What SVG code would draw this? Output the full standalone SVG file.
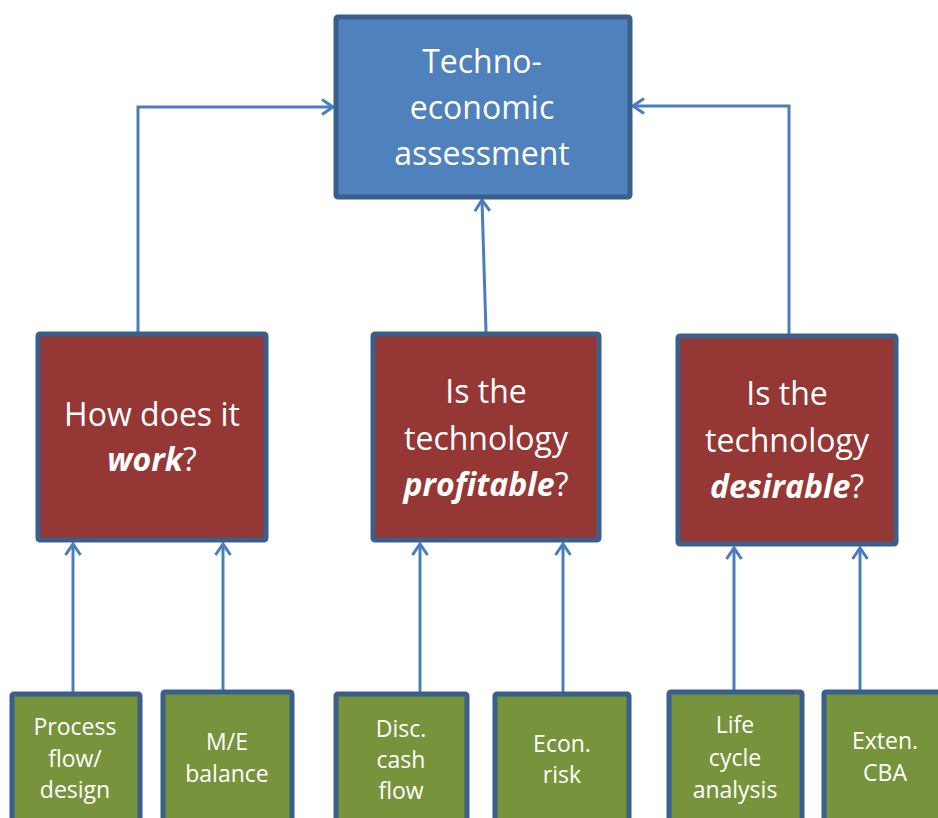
<svg xmlns="http://www.w3.org/2000/svg" width="938" height="818" viewBox="0 0 938 818">
<defs>
<style>
.top{fill:#4F81BD;stroke:#3A5F8B;stroke-width:5}
.red{fill:#953735;stroke:#3A5F8B;stroke-width:5}
.grn{fill:#77933C;stroke:#3A5F8B;stroke-width:5}
.t{font-family:"Open Sans","Liberation Sans",sans-serif;fill:#fff;text-anchor:middle}
.tl{font-size:32px}
.ts{font-size:23px}
.c{fill:none;stroke:#4A7EBB;stroke-width:3;marker-end:url(#ah)}
</style>
<marker id="ah" markerWidth="16" markerHeight="20" refX="13" refY="9" orient="auto" markerUnits="userSpaceOnUse">
<path d="M2,1.5 L13,9 L2,16.5" fill="none" stroke="#4A7EBB" stroke-width="3"/>
</marker>
</defs>
<g id="connectors">
<path class="c" d="M138,332 V107 H333"/>
<path class="c" d="M486,332 L482,200"/>
<path class="c" d="M789,334 V106 H633"/>
<path class="c" d="M73,692 V544"/>
<path class="c" d="M223,690 V544"/>
<path class="c" d="M420,692 V544"/>
<path class="c" d="M563,692 V544"/>
<path class="c" d="M734,690 V548"/>
<path class="c" d="M860,690 V548"/>
</g>
<g id="tea">
<rect class="top" x="336" y="17" width="294" height="180" rx="2"/>
<text class="t tl" x="482" y="73">Techno-</text>
<text class="t tl" x="482" y="119">economic</text>
<text class="t tl" x="482" y="165">assessment</text>
</g>
<g id="work">
<rect class="red" x="38" y="334" width="228" height="206" rx="2"/>
<text class="t tl" x="152" y="426">How does it</text>
<text class="t tl" x="152" y="471"><tspan font-weight="bold" font-style="italic">work</tspan>?</text>
</g>
<g id="profit">
<rect class="red" x="373" y="334" width="226" height="206" rx="2"/>
<text class="t tl" x="486" y="403">Is the</text>
<text class="t tl" x="486" y="450">technology</text>
<text class="t tl" x="486" y="496"><tspan font-weight="bold" font-style="italic">profitable</tspan>?</text>
</g>
<g id="desire">
<rect class="red" x="678" y="336" width="218" height="208" rx="2"/>
<text class="t tl" x="787" y="405">Is the</text>
<text class="t tl" x="787" y="452">technology</text>
<text class="t tl" x="787" y="498"><tspan font-weight="bold" font-style="italic">desirable</tspan>?</text>
</g>
<g id="process">
<rect class="grn" x="12" y="694" width="128" height="140" rx="2"/>
<text class="t ts" x="75" y="735">Process</text>
<text class="t ts" x="75" y="767">flow/</text>
<text class="t ts" x="75" y="798">design</text>
</g>
<g id="me">
<rect class="grn" x="163" y="692" width="129" height="140" rx="2"/>
<text class="t ts" x="227" y="750">M/E</text>
<text class="t ts" x="227" y="782">balance</text>
</g>
<g id="disc">
<rect class="grn" x="336" y="694" width="131" height="140" rx="2"/>
<text class="t ts" x="401" y="737">Disc.</text>
<text class="t ts" x="401" y="768">cash</text>
<text class="t ts" x="401" y="799">flow</text>
</g>
<g id="econ">
<rect class="grn" x="495" y="694" width="134" height="140" rx="2"/>
<text class="t ts" x="562" y="752">Econ.</text>
<text class="t ts" x="562" y="783">risk</text>
</g>
<g id="lca">
<rect class="grn" x="669" y="692" width="133" height="140" rx="2"/>
<text class="t ts" x="735" y="733">Life</text>
<text class="t ts" x="735" y="766">cycle</text>
<text class="t ts" x="735" y="798">analysis</text>
</g>
<g id="cba">
<rect class="grn" x="824" y="692" width="130" height="140" rx="2"/>
<text class="t ts" x="885" y="749">Exten.</text>
<text class="t ts" x="885" y="781">CBA</text>
</g>
</svg>
